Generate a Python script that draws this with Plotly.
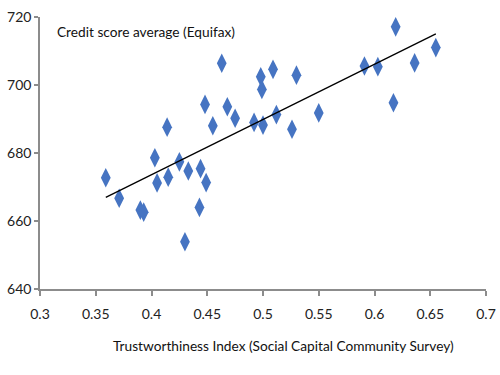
import numpy as np
import plotly.graph_objects as go

trust_index = [0.359, 0.371, 0.390, 0.393, 0.403, 0.405, 0.415, 0.414, 0.425, 0.433,
               0.430, 0.443, 0.444, 0.449, 0.448, 0.455, 0.463, 0.468, 0.475, 0.492,
               0.498, 0.499, 0.500, 0.509, 0.512, 0.526, 0.530, 0.550, 0.591, 0.603,
               0.617, 0.619, 0.636, 0.655]
credit_score = [672.7, 666.7, 663.2, 662.6, 678.6, 671.2, 672.9, 687.6, 677.4, 674.7,
                653.9, 664.0, 675.4, 671.3, 694.3, 688.0, 706.4, 693.6, 690.2, 689.0,
                702.4, 698.7, 688.2, 704.6, 691.3, 687.0, 702.9, 691.8, 705.6, 705.4,
                694.8, 717.1, 706.5, 711.0]

x_ticks = [0.3, 0.35, 0.4, 0.45, 0.5, 0.55, 0.6, 0.65, 0.7]
x_tick_labels = ["0.3", "0.35", "0.4", "0.45", "0.5", "0.55", "0.6", "0.65", "0.7"]
y_ticks = [640, 660, 680, 700, 720]

slope, intercept = np.polyfit(trust_index, credit_score, 1)
trend_x = [min(trust_index), max(trust_index)]
trend_y = [slope * v + intercept for v in trend_x]

font = "Lato, sans-serif"
axis_color = "#8c8c8c"

fig = go.Figure()
fig.add_trace(go.Scatter(
    x=trust_index, y=credit_score, mode="markers",
    marker=dict(symbol="diamond-tall", size=14, color="#4674C2",
                line=dict(width=0)),
    showlegend=False, hoverinfo="x+y"))
fig.add_trace(go.Scatter(
    x=trend_x, y=trend_y, mode="lines",
    line=dict(color="black", width=1.3), showlegend=False, hoverinfo="skip"))

fig.update_layout(
    width=500, height=375,
    margin=dict(l=40, r=14, t=17, b=86, autoexpand=False),
    paper_bgcolor="white", plot_bgcolor="white",
    font=dict(family=font, size=14, color="#222222"),
    annotations=[
        dict(text="Credit score average (Equifax)", xref="paper", yref="paper",
             x=0.033, y=0.945, xanchor="left", yanchor="middle",
             showarrow=False, font=dict(family=font, size=13.7, color="#111111")),
        dict(text="Trustworthiness Index (Social Capital Community Survey)",
             xref="paper", yref="paper", x=0.546, y=-0.209,
             xanchor="center", yanchor="middle", showarrow=False,
             font=dict(family=font, size=13.7, color="#111111")),
    ],
)
fig.update_xaxes(
    range=[0.3, 0.7], tickvals=x_ticks, ticktext=x_tick_labels, automargin=False,
    showgrid=False, zeroline=False, showline=True, linecolor=axis_color, linewidth=1.5,
    ticks="outside", ticklen=5, tickcolor=axis_color, tickwidth=1.5, ticklabelstandoff=6,
    ticklabeloverflow="allow",
    tickfont=dict(family=font, size=14, color="#222222"))
fig.update_yaxes(
    range=[640, 720], tickvals=y_ticks, automargin=False,
    showgrid=False, zeroline=False, showline=True, linecolor=axis_color, linewidth=1.5,
    ticks="outside", ticklen=4, tickcolor=axis_color, tickwidth=1.5, ticklabelstandoff=0,
    ticklabeloverflow="allow",
    tickfont=dict(family=font, size=14, color="#222222"))

fig.write_html("out.html", config={"displayModeBar": False},
               post_script="document.body.style.margin='0';")
